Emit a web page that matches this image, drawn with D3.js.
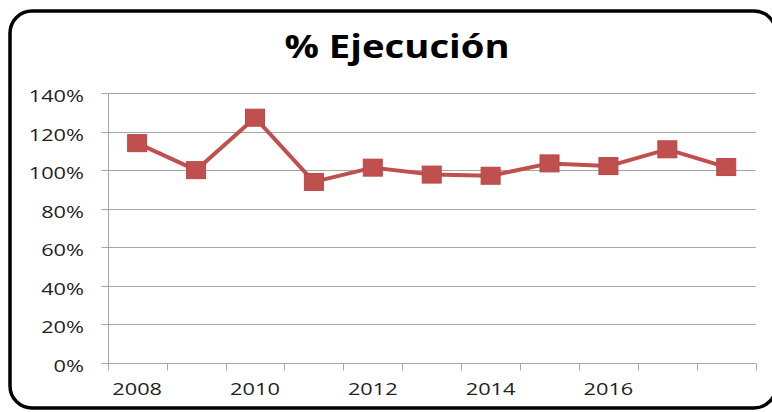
<!DOCTYPE html>
<html>
<head>
<meta charset="utf-8">
<script src="https://cdn.jsdelivr.net/npm/d3@7"></script>
<style>
  html, body { margin: 0; padding: 0; background: #fff; }
  svg { display: block; }
</style>
</head>
<body>
<svg id="chart" width="772" height="412"></svg>
<script>
// Annual execution percentage
const years = ["2008","2009","2010","2011","2012","2013","2014","2015","2016","2017","2018"];
const ejecucion = [1.14, 1.00, 1.272, 0.939, 1.013, 0.977, 0.971, 1.035, 1.021, 1.108, 1.016];
const yTicks = [0, 0.2, 0.4, 0.6, 0.8, 1.0, 1.2, 1.4];
const labeledYears = ["2008","2010","2012","2014","2016"];

const svg = d3.select("#chart");
const plot = { left: 107.7, right: 755.7, top: 93, bottom: 363 };
const font = "'Open Sans', 'DejaVu Sans', sans-serif";
const stretch = 1.28;   // labels are drawn slightly wide

// Rounded frame around the chart
svg.append("rect")
  .attr("x", 10).attr("y", 11)
  .attr("width", 766).attr("height", 397)
  .attr("rx", 22).attr("ry", 22)
  .attr("fill", "#fff")
  .attr("stroke", "#000")
  .attr("stroke-width", 3.5);

// Title
svg.append("text")
  .attr("transform", "translate(397,58) scale(1.16,1)")
  .attr("text-anchor", "middle")
  .attr("font-family", font)
  .attr("font-weight", "bold")
  .attr("font-size", 33)
  .attr("fill", "#000")
  .text("% Ejecución");

const x = d3.scaleBand().domain(years).range([plot.left, plot.right]).padding(0);
const y = d3.scaleLinear().domain([0, 1.4]).range([plot.bottom, plot.top]);
const px = v => Math.round(v) + 0.5;

// Horizontal gridlines
svg.append("g")
  .selectAll("line")
  .data(yTicks.filter(d => d > 0))
  .join("line")
  .attr("x1", plot.left).attr("x2", plot.right)
  .attr("y1", d => px(y(d))).attr("y2", d => px(y(d)))
  .attr("stroke", "#A6A6A6").attr("stroke-width", 1);

// Y axis
const yAxis = svg.append("g")
  .attr("transform", `translate(${px(plot.left)},0)`)
  .call(d3.axisLeft(y).tickValues(yTicks).tickFormat(d3.format(".0%")).tickSize(7));
yAxis.select(".domain").attr("stroke", "#A6A6A6").attr("d", `M0,${plot.top}V${plot.bottom}`);
yAxis.selectAll(".tick line").attr("stroke", "#A6A6A6");
yAxis.selectAll(".tick").attr("transform", d => `translate(0,${px(y(d))})`);
yAxis.selectAll(".tick text")
  .attr("x", null).attr("dy", null)
  .attr("transform", `translate(-24.5,8) scale(${stretch},1)`)
  .attr("font-family", font).attr("font-size", 17).attr("fill", "#222");

// X axis: tick marks at category boundaries, labels every other year
const xg = svg.append("g").attr("transform", `translate(0,${px(plot.bottom)})`);
xg.append("line")
  .attr("x1", plot.left).attr("x2", plot.right)
  .attr("stroke", "#A6A6A6");
const bounds = years.map(d => x(d)).concat([plot.right]);
xg.selectAll("line.tk")
  .data(bounds)
  .join("line").attr("class", "tk")
  .attr("x1", d => px(d)).attr("x2", d => px(d))
  .attr("y1", 0).attr("y2", 7)
  .attr("stroke", "#A6A6A6");
xg.selectAll("text")
  .data(labeledYears)
  .join("text")
  .attr("transform", d => `translate(${x(d) + x.bandwidth() / 2},31.5) scale(${stretch},1)`)
  .attr("text-anchor", "middle")
  .attr("font-family", font).attr("font-size", 17).attr("fill", "#222")
  .text(d => d);

// Series line
const line = d3.line()
  .x((d, i) => x(years[i]) + x.bandwidth() / 2)
  .y(d => y(d));
svg.append("path")
  .datum(ejecucion)
  .attr("d", line)
  .attr("fill", "none")
  .attr("stroke", "#C0504D")
  .attr("stroke-width", 4)
  .attr("stroke-linejoin", "round");

// Square markers
const mw = 19, mh = 17;
svg.append("g")
  .selectAll("rect")
  .data(ejecucion)
  .join("rect")
  .attr("x", (d, i) => x(years[i]) + x.bandwidth() / 2 - mw / 2)
  .attr("y", d => y(d) - mh / 2)
  .attr("width", mw).attr("height", mh)
  .attr("fill", "#C0504D")
  .attr("stroke", "#B9474A")
  .attr("stroke-width", 1);
</script>
</body>
</html>
